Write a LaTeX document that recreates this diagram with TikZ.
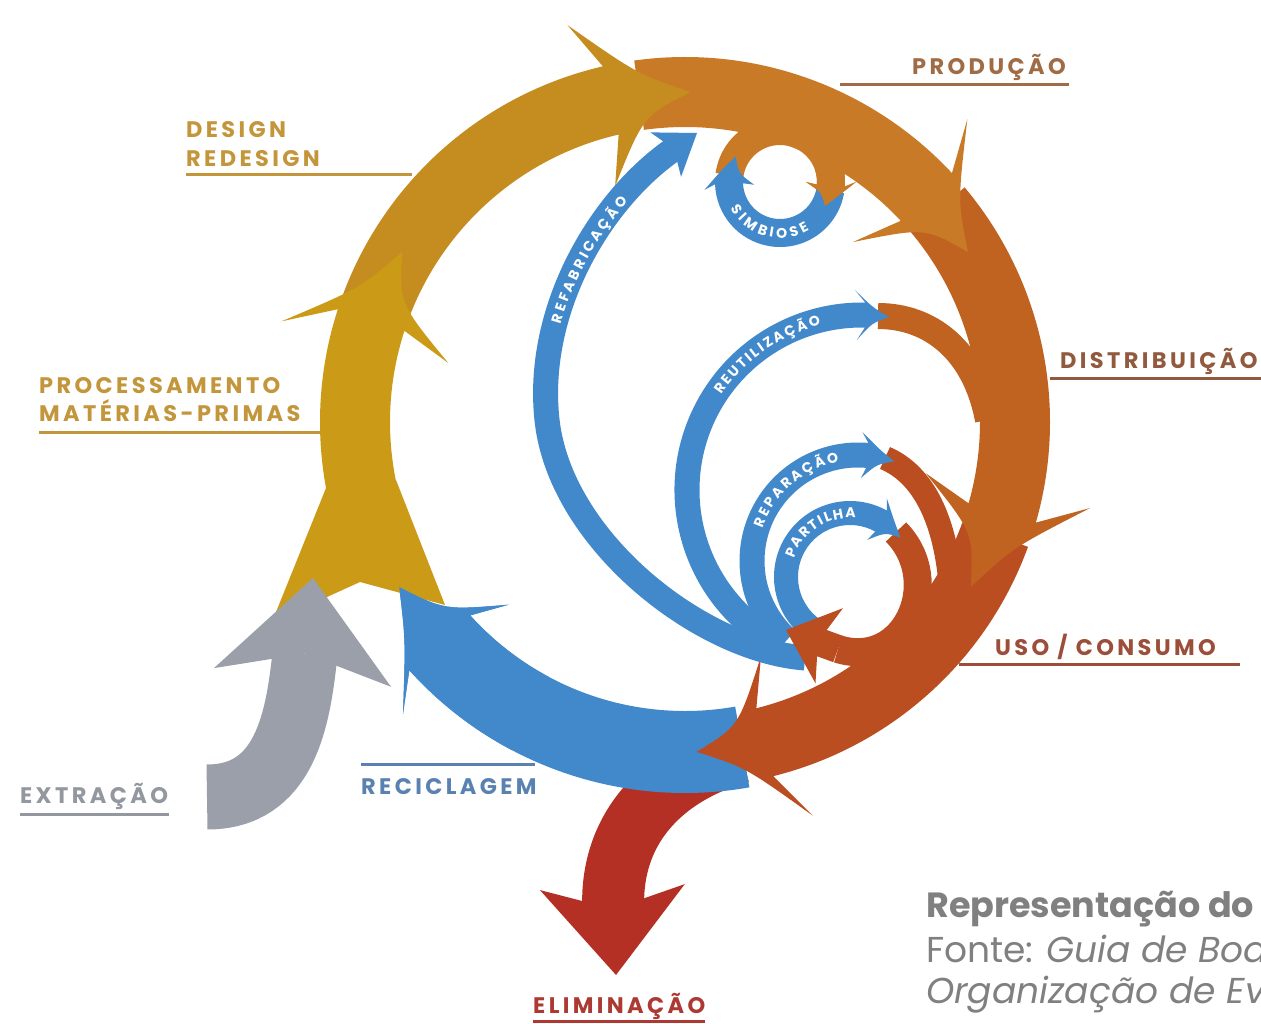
\documentclass[tikz,border=0pt]{standalone}
\usepackage{fontspec}
\setmainfont{Poppins}
\newfontfamily\labfont[LetterSpace=15]{Poppins}
\newfontfamily\arcfont{Poppins}
\usetikzlibrary{arrows.meta,decorations.text}

\definecolor{goldA}{RGB}{203,155,24}
\definecolor{goldB}{RGB}{197,140,32}
\definecolor{prodC}{RGB}{200,122,38}
\definecolor{distC}{RGB}{192,98,32}
\definecolor{usoC}{RGB}{186,78,32}
\definecolor{elimC}{RGB}{180,48,36}
\definecolor{blueC}{RGB}{66,137,204}
\definecolor{greyC}{RGB}{154,159,170}
\definecolor{goldT}{RGB}{196,150,60}
\definecolor{prodT}{RGB}{160,108,70}
\definecolor{distT}{RGB}{145,90,62}
\definecolor{usoT}{RGB}{155,78,58}
\definecolor{blueT}{RGB}{90,130,176}
\definecolor{greyT}{RGB}{146,151,160}
\definecolor{elimT}{RGB}{172,58,50}
\definecolor{capT}{RGB}{128,128,128}

% #1 fill style, #2 centre, #3 mid radius, #4 band half width, #5 head half width,
% #6 start angle, #7 notch angle, #8 barb angle, #9 tip angle
\newcommand\arcarrow[9]{%
  \begin{scope}[shift={#2}]
    \fill[#1] (#6:{#3+#4}) arc[start angle=#6, end angle=#7, radius={#3+#4}]
      -- (#8:{#3+#5})
      .. controls ({#8+0.5*(#9-#8)}:{#3+0.6*#4}) .. (#9:#3)
      .. controls ({#8+0.5*(#9-#8)}:{#3-0.6*#4}) .. (#8:{#3-#5})
      -- (#7:{#3-#4})
      arc[start angle=#7, end angle=#6, radius={#3-#4}] -- cycle;
  \end{scope}}

\tikzset{
  lab/.style={anchor=base west, inner sep=0pt, font=\labfont\bfseries\fontsize{22.5}{24}\selectfont},
  labline/.style={line width=3pt},
  captxt/.style={anchor=base west, inner sep=0pt, text=capT, font=\fontsize{36}{40}\selectfont},
  arctext/.style={decorate, decoration={text along path,
      text={|\arcfont\bfseries\fontsize{14}{14}\selectfont|#1},
      text color=white, text align=center, raise=-5pt}}
}

\begin{document}
\begin{tikzpicture}[x=1pt,y=-1pt]
\useasboundingbox (0,0) rectangle (1261,1024);
\fill[white] (0,0) rectangle (1261,1024);

% underlines
\draw[labline, goldT] (186,175) -- (412,175);
\draw[labline, goldT] (39,432) -- (320,432);
\draw[labline, prodT] (840,85) -- (1069,85);
\draw[labline, distT] (1050,378) -- (1261,378);
\draw[labline, usoT] (959,664) -- (1240,664);
\draw[labline, blueT] (361,764) -- (535,764);
\draw[labline, greyT] (20,814) -- (169,814);
\draw[labline, elimT] (533,1021) -- (705,1021);

% eliminacao
\draw[elimC, line width=62pt, -{Stealth[length=88pt,width=145pt,inset=22pt,line width=0pt]}]
  (740,752) .. controls (660,775) and (610,830) .. (616,975);

% reciclagem
\arcarrow{fill=blueC}{(685,422)}{330}{41}{76}{80}{138}{134}{150}

% inner continuations
\draw[distC, line width=26pt] (878,316) .. controls (930,316) and (975,350) .. (988,420);
\draw[usoC, line width=24pt] (885,458) .. controls (925,475) and (950,525) .. (952,610);
\draw[usoC, line width=28pt] (896,532) .. controls (945,582) and (905,670) .. (838,649);

% main ring
\arcarrow{fill=usoC}{(685,422)}{330}{35}{84}{20}{76}{72}{88}
\arcarrow{fill=distC}{(685,422)}{330}{35}{84}{320}{376}{372}{390}
\arcarrow{fill=prodC}{(685,422)}{330}{35}{84}{262}{317}{313}{329}
\arcarrow{fill=goldB}{(685,422)}{330}{35}{84}{200}{257}{253.5}{271}
\fill[goldA] (326,488) -- (272,622) -- (360,582) -- (445,605) -- (396,480) -- cycle;
\arcarrow{fill=goldA}{(685,422)}{330}{35}{86}{166}{198}{194}{211}

% extracao
\draw[greyC, line width=65pt, -{Stealth[length=100pt,width=178pt,inset=24pt,line width=0pt]}]
  (207,797) .. controls (285,797) and (298,720) .. (313,578);
% reciclagem head on top
\arcarrow{fill=blueC}{(685,422)}{330}{41}{76}{118}{138}{134}{150}

% simbiose
\arcarrow{fill=prodC}{(780,182)}{51}{14}{25}{188}{364}{360}{388}
\arcarrow{fill=blueC}{(780,182)}{51}{14}{25}{10}{178}{174}{210}
\arcarrow{fill=prodC}{(780,182)}{51}{14}{25}{340}{364}{360}{388}

% refabricacao
\draw[blueC, line width=25pt, -{Stealth[length=38pt,width=54pt,inset=10pt,line width=0pt]}]
  (805,658) .. controls (700,650) and (560,540) .. (547,420)
  .. controls (535,310) and (600,200) .. (697,133);
% reutilizacao, reparacao, partilha
\arcarrow{fill=blueC}{(862,490)}{175}{12.5}{25}{118}{271}{268}{279}
\arcarrow{fill=blueC}{(858,561)}{106}{12.5}{23}{132}{275}{272}{290}
\arcarrow{fill=blueC}{(850,577)}{64}{12}{23}{125}{299}{295}{322}
\draw[usoC, line width=28pt, -{Stealth[length=46pt,width=80pt,inset=12pt,line width=0pt]}]
  (838,649) -- (786,630);

% texts along arcs
\path[arctext={R{\kern3pt}E{\kern3pt}F{\kern3pt}A{\kern3pt}B{\kern3pt}R{\kern3pt}I{\kern3pt}C{\kern3pt}A{\kern3pt}Ç{\kern3pt}Ã{\kern3pt}O}]
  (547,420) .. controls (535,310) and (600,200) .. (697,133);
\path[arctext={S{\kern2.5pt}I{\kern2.5pt}M{\kern2.5pt}B{\kern2.5pt}I{\kern2.5pt}O{\kern2.5pt}S{\kern2.5pt}E}]
  ([shift={(780,182)}]195:51) arc[start angle=195,end angle=15,radius=51];
\path[arctext={R{\kern2.5pt}E{\kern2.5pt}U{\kern2.5pt}T{\kern2.5pt}I{\kern2.5pt}L{\kern2.5pt}I{\kern2.5pt}Z{\kern2.5pt}A{\kern2.5pt}Ç{\kern2.5pt}Ã{\kern2.5pt}O}]
  ([shift={(862,490)}]185:175) arc[start angle=185,end angle=285,radius=175];
\path[arctext={R{\kern3pt}E{\kern3pt}P{\kern3pt}A{\kern3pt}R{\kern3pt}A{\kern3pt}Ç{\kern3pt}Ã{\kern3pt}O}]
  ([shift={(858,561)}]180:106) arc[start angle=180,end angle=278,radius=106];
\path[arctext={P{\kern2.5pt}A{\kern2.5pt}R{\kern2.5pt}T{\kern2.5pt}I{\kern2.5pt}L{\kern2.5pt}H{\kern2.5pt}A}]
  ([shift={(850,577)}]170:64) arc[start angle=170,end angle=304,radius=64];

% labels
\node[lab, text=goldT] (lDesign) at (186,138) {DESIGN};
\node[lab, text=goldT] (lRedesign) at (186,167) {REDESIGN};
\node[lab, text=goldT] (lProc) at (39,393) {PROCESSAMENTO};
\node[lab, text=goldT] (lMat) at (39,421) {MATÉRIAS-PRIMAS};
\node[lab, text=prodT] (lProd) at (912,75) {PRODUÇÃO};
\node[lab, text=distT] (lDist) at (1060,368) {DISTRIBUIÇÃO};
\node[lab, text=usoT] (lUso) at (995,655) {USO / CONSUMO};
\node[lab, text=blueT] (lRec) at (361,794) {RECICLAGEM};
\node[lab, text=greyT] (lExt) at (20,803) {EXTRAÇÃO};
\node[lab, text=elimT] (lElim) at (533,1013) {ELIMINAÇÃO};

\begin{scope}
\clip (0,0) rectangle (1261,1024);
\node[captxt, font=\fontsize{35}{40}\selectfont\bfseries] (cap1) at (926,917) {Representação do};
\node[captxt] (cap2) at (926,962) {Fonte: \textit{Guia de Boas}};
\node[captxt] (cap3) at (926,1003) {\textit{Organização de Eventos}};
\end{scope}
\end{tikzpicture}
\end{document}
